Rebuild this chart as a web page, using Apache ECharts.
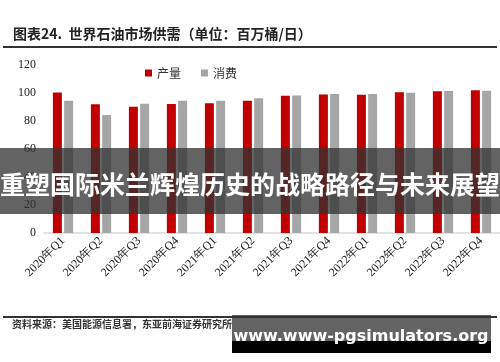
<!DOCTYPE html>
<html><head><meta charset="utf-8">
<script src="https://cdn.jsdelivr.net/npm/echarts@6/dist/echarts.min.js"></script>
<style>html,body{margin:0;padding:0;background:#fff}#c{width:500px;height:362px}</style>
</head><body><div id="c"></div>
<script>
const categories = ['2020年Q1','2020年Q2','2020年Q3','2020年Q4','2021年Q1','2021年Q2','2021年Q3','2021年Q4','2022年Q1','2022年Q2','2022年Q3','2022年Q4'];
const production = [100.3, 91.9, 90.2, 92.1, 92.6, 94.5, 98.1, 99.0, 98.8, 100.5, 101.2, 101.9];
const consumption = [94.5, 84.3, 92.4, 94.5, 94.5, 96.2, 98.3, 99.3, 99.3, 100.2, 101.4, 101.6];
const yTicks = [0, 20, 40, 60, 80, 100, 120];

const chart = echarts.init(document.getElementById('c'));
const serif = '"Liberation Serif","Times New Roman",serif';
const cjk = '"Noto Sans CJK SC",sans-serif';
chart.setOption({
  animation: false,
  legend: {
    right: 258, top: 62, itemWidth: 7, itemHeight: 7, itemGap: 20,
    icon: 'rect',
    textStyle: {fontFamily: cjk, fontSize: 12, color: '#333'},
    data: ['产量', '消费']
  },
  grid: {left: 44, right: 0, top: 65, bottom: 129},
  xAxis: {
    type: 'category', data: categories,
    axisLine: {lineStyle: {color: '#d9d9d9', width: 1.5}},
    axisTick: {show: false},
    axisLabel: {rotate: 45, fontFamily: serif, fontSize: 12, color: '#222', margin: 6, interval: 0}
  },
  yAxis: {
    type: 'value', min: yTicks[0], max: yTicks[yTicks.length - 1], interval: 20,
    axisLine: {show: false}, axisTick: {show: false}, splitLine: {show: false},
    axisLabel: {fontFamily: serif, fontSize: 12, color: '#222', margin: 8}
  },
  series: [
    {name: '产量', type: 'bar', data: production, barWidth: 9, barGap: '25%', itemStyle: {color: '#c00000'}},
    {name: '消费', type: 'bar', data: consumption, barWidth: 9, itemStyle: {color: '#a6a6a6'}}
  ],
  graphic: [
    {type: 'text', left: 13, top: 27, style: {text: '图表24.  世界石油市场供需（单位：百万桶/日）', font: 'bold 14px ' + cjk, fill: '#222'}},
    {type: 'rect', shape: {x: 3, y: 46, width: 494, height: 2}, style: {fill: '#333'}},
    {type: 'rect', shape: {x: 3, y: 316, width: 494, height: 2}, style: {fill: '#333'}},
    {type: 'text', left: 12, top: 319, style: {text: '资料来源：美国能源信息署，东亚前海证券研究所', font: 'bold 10px ' + cjk, fill: '#333'}},
    {type: 'rect', z: 100, shape: {x: 0, y: 148, width: 500, height: 66}, style: {fill: 'rgba(50,50,50,0.76)'}},
    {type: 'text', z: 101, x: 250, y: 184, style: {text: '重塑国际米兰辉煌历史的战略路径与未来展望', font: 'bold 25px ' + cjk, fill: '#fff', align: 'center', verticalAlign: 'middle'}},
    {type: 'rect', z: 100, shape: {x: 232, y: 315, width: 259, height: 26}, style: {fill: 'rgba(50,50,50,0.76)'}},
    {type: 'rect', z: 100, shape: {x: 232, y: 341, width: 259, height: 12}, style: {fill: '#000'}},
    {type: 'text', z: 101, x: 361, y: 337, style: {text: 'www.www-pgsimulators.org', font: 'bold 16px "DejaVu Sans",sans-serif', fill: '#fff', align: 'center', verticalAlign: 'middle'}}
  ]
});
</script></body></html>
